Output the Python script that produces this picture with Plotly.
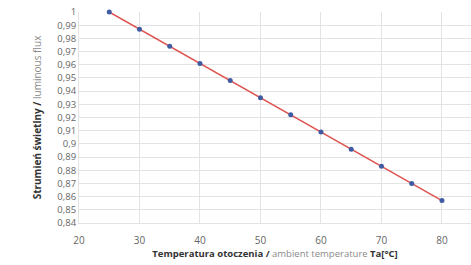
import plotly.graph_objects as go

temperature = [25, 30, 35, 40, 45, 50, 55, 60, 65, 70, 75, 80]
flux = [1.0, 0.987, 0.974, 0.961, 0.948, 0.935, 0.922, 0.909, 0.896, 0.883, 0.870, 0.857]

fig = go.Figure()
fig.add_trace(go.Scatter(
    x=temperature, y=flux, mode="lines+markers",
    line=dict(color="#de5450", width=1.5),
    marker=dict(color="#3f5ca3", size=5),
    cliponaxis=False, showlegend=False,
))

grid = "#e3e3e3"
fig.update_layout(
    width=471, height=265,
    margin=dict(l=79, r=0, t=12, b=42),
    paper_bgcolor="white", plot_bgcolor="white",
    separators=", ",
    font=dict(family="Open Sans, Liberation Sans, sans-serif", color="#666666", size=9),
    xaxis=dict(
        range=[20, 84.8], tickvals=[20, 30, 40, 50, 60, 70, 80],
        showgrid=True, gridcolor=grid, gridwidth=1,
        zeroline=False, showline=True, linecolor=grid,
        ticks="", tickfont=dict(size=10, color="#666666"),
        ticklabelstandoff=8,
        title=dict(
            text="<b>Temperatura otoczenia /</b> <span style='color:#8a8a8a'>ambient temperature</span> <b>Ta[°C]</b>",
            font=dict(size=9.5, color="#333333"), standoff=4,
        ),
    ),
    yaxis=dict(
        range=[0.84, 1.0], dtick=0.01, tick0=0.84,
        showgrid=True, gridcolor=grid, gridwidth=1,
        zeroline=False, showline=True, linecolor=grid,
        ticks="", tickfont=dict(size=9.5, color="#666666"),
        title=dict(
            text="<b>Strumień świetlny /</b> <span style='color:#8a8a8a'>luminous flux</span>",
            font=dict(size=10, color="#333333"), standoff=13,
        ),
    ),
)

fig.write_html("out.html", config={"displayModeBar": False},
               post_script="document.body.style.margin='0';document.body.style.overflow='hidden';")
